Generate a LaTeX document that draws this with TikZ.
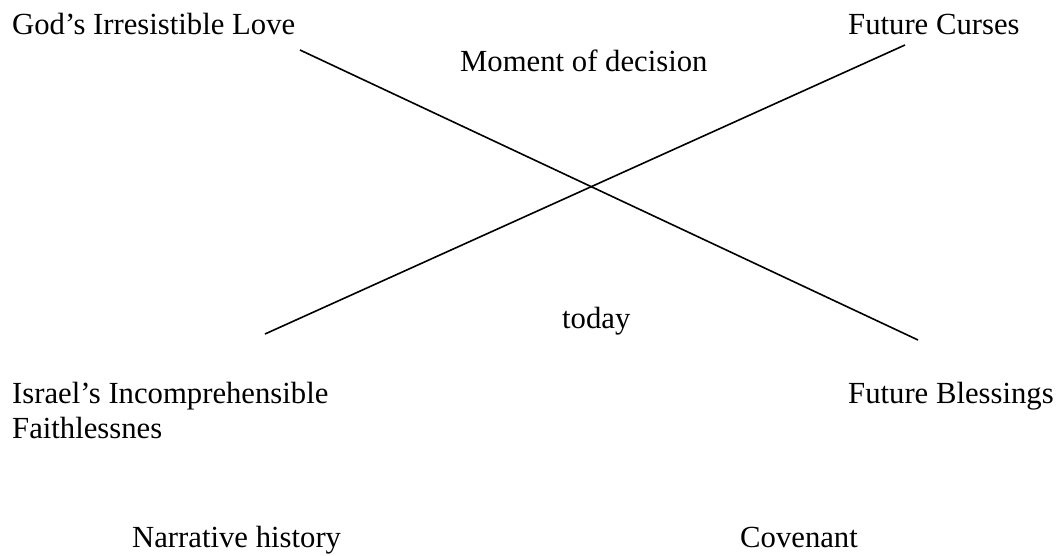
\documentclass[tikz,border=0pt]{standalone}
\usepackage{fontspec}
\setmainfont{Liberation Serif}
\begin{document}
\begin{tikzpicture}[x=1pt,y=-1pt,
  lbl/.style={anchor=base west,inner sep=0pt,font=\fontsize{30.7}{35}\selectfont},
  crossline/.style={line width=1.6pt,line cap=butt}]
\useasboundingbox (0,0) rectangle (1060,556);
\node[lbl] (love) at (12,35) {God’s Irresistible Love};
\node[lbl] (curses) at (848,35) {Future Curses};
\node[lbl] (moment) at (460,72) {Moment of decision};
\node[lbl] (today) at (562,328) {today};
\node[lbl] (israel) at (12,403) {Israel’s Incomprehensible};
\node[lbl] (faith) at (12,438) {Faithlessnes};
\node[lbl] (bless) at (848,403) {Future Blessings};
\node[lbl] (narr) at (132,547) {Narrative history};
\node[lbl] (cov) at (740,547) {Covenant};
\coordinate (a1) at (300,50);
\coordinate (a2) at (918,340);
\coordinate (b1) at (905,45);
\coordinate (b2) at (265,334);
\draw[crossline] (a1) -- (a2);
\draw[crossline] (b1) -- (b2);
\end{tikzpicture}
\end{document}
